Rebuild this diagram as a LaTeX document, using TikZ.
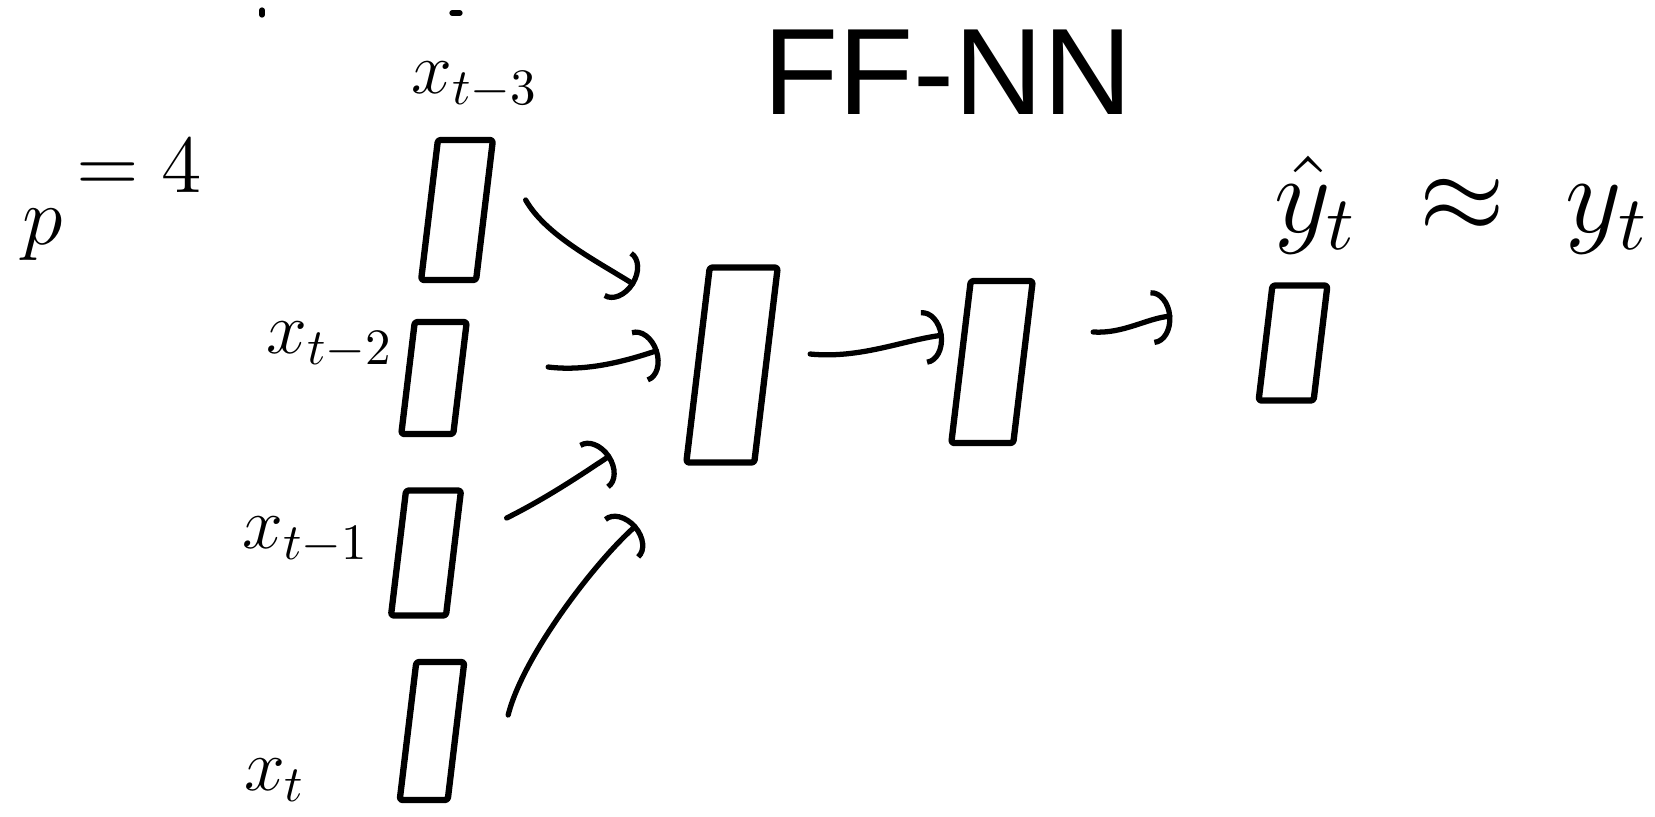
\documentclass[tikz,border=0pt]{standalone}
\usepackage{amsmath,amssymb}
\usepackage{fontspec}
\setmainfont{Liberation Sans}
\usepackage{tikz}
\usetikzlibrary{arrows.meta,calc}
\definecolor{inkBlack}{HTML}{000000}

\begin{document}
\begin{tikzpicture}[x=0.02cm, y=-0.02cm,
  vec/.style={draw=inkBlack, line width=3.6pt, line join=round, rounded corners=1.5pt, xslant=0.12},
  conn/.style={draw=inkBlack, line width=3pt, line cap=round, -{Arc Barb[length=0.4cm, width=1.1cm]}},
  hand/.style={font=\Large, scale=2.9, transform shape, inner sep=0pt}]
\useasboundingbox (0,0) rectangle (1655,816);
% title
\node[font=\Large, scale=4.86, transform shape] (title) at (948,72) {FF-NN};
% vectors
\foreach \nm/\x/\y/\w/\h in {in3/457/210/55/140, in2/434/378/52/112, in1/426/553/55/125, in0/432/731/48/138,
                             hid1/732/365/68/195, hid2/992/362/62/162, out/1293/343/55/115}{
  \node[vec, minimum width=\w*0.569pt, minimum height=\h*0.569pt] (\nm) at (\x,\y) {};
}
% labels
\node[hand] (lab3) at (475,85) {$x_{t-3}$};
\node[hand] (lab2) at (330,345) {$x_{t-2}$};
\node[hand] (lab1) at (306,540) {$x_{t-1}$};
\node[hand] (lab0) at (275,780) {$x_{t}$};
\node[hand, scale=1.12] (pval) at (112,200) {$p\,\raisebox{1.2ex}{${=}\;4$}$};
\node[hand, scale=1.5] (yhat) at (1462,205) {$\hat{y}_t \;\approx\; y_t$};
% connectors
\draw[conn] ($(in3.east)+(38,-10)$) .. controls +(20,35) and +(-40,-25) .. ($(hid1.west)+(-60,-80)$);
\draw[conn] ($(in2.east)+(85,-11)$) .. controls +(40,5) and +(-30,10) .. ($(hid1.west)+(-36,-15)$);
\draw[conn] ($(in1.east)+(50,-35)$) .. controls +(40,-20) and +(-30,20) .. ($(hid1.west)+(-84,90)$);
\draw[conn] ($(in0.east)+(49,-16)$) .. controls +(15,-60) and +(-40,35) .. ($(hid1.west)+(-58,160)$);
\draw[conn] ($(hid1.east)+(41,-11)$) .. controls +(50,5) and +(-40,5) .. ($(hid2.west)+(-14,-27)$);
\draw[conn] ($(hid2.east)+(67,-30)$) .. controls +(30,2) and +(-25,2) .. ($(out.west)+(-90,-27)$);
% marks cut at the top edge
\draw[inkBlack, line width=3pt, line cap=round] (262,10) -- (262,15) (452,13) -- (460,13);
\end{tikzpicture}
\end{document}
